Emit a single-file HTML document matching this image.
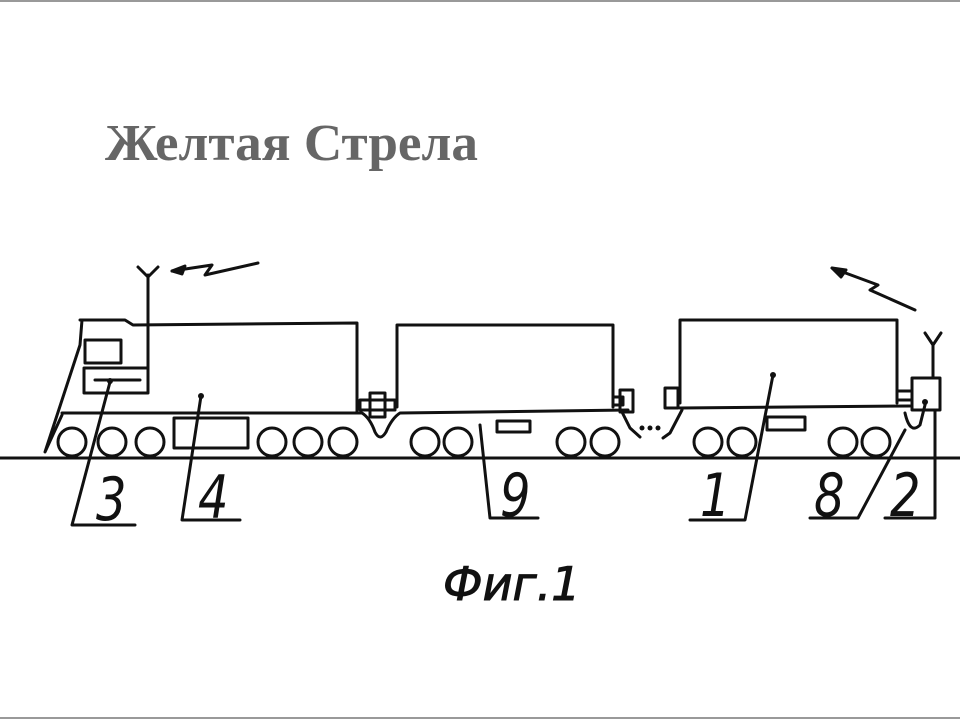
<!DOCTYPE html>
<html><head><meta charset="utf-8"><style>
html,body{margin:0;padding:0;background:#fff}
svg{display:block}
</style></head><body>
<svg width="960" height="720" viewBox="0 0 960 720" xmlns="http://www.w3.org/2000/svg">
<rect x="0" y="0" width="960" height="720" fill="#fff"/>
<line x1="0" y1="1" x2="960" y2="1" stroke="#999" stroke-width="2"/>
<line x1="0" y1="718" x2="960" y2="718" stroke="#999" stroke-width="2"/>
<text x="105" y="160" font-family="Liberation Serif, serif" font-weight="bold" font-size="52" fill="#666" textLength="373" lengthAdjust="spacingAndGlyphs">Желтая Стрела</text>
<g stroke="#111" stroke-width="3" fill="none" stroke-linecap="round" stroke-linejoin="round">
<line x1="0" y1="458" x2="960" y2="458"/>
<path d="M80,320 L125,320 L133,325 L357,323 L357,413"/>
<path d="M82,320 L80,345 L45,452 L62,415"/>
<rect x="85" y="340" width="36" height="23"/>
<rect x="84" y="368" width="64" height="25"/>
<line x1="95" y1="380" x2="140" y2="380"/>
<line x1="148" y1="275" x2="148" y2="368"/>
<path d="M138,267 L148,277 L158,267"/>
<path d="M258,263 L205,275 L212,265 L172,271"/>
<path d="M172,271 L185,266 L182,274 Z" fill="#111"/>
<line x1="62" y1="413" x2="357" y2="413"/>
<rect x="174" y="418" width="74" height="30"/>
<path d="M357,413 L362,413 Q370,418 375,432 Q380,442 386,432 Q392,418 400,413 L628,410"/>
<rect x="360" y="400" width="35" height="10"/>
<rect x="370" y="393" width="15" height="24"/>
<path d="M397,407 L397,325 L613,325 L613,407"/>
<rect x="613" y="397" width="10" height="8"/>
<rect x="620" y="390" width="13" height="22"/>
<path d="M622,412 L630,428 L640,437"/>
<rect x="497" y="421" width="33" height="11"/>
<path d="M680,403 L680,320 L897,320 L897,403"/>
<rect x="665" y="388" width="13" height="20"/>
<path d="M680,408 L910,406"/>
<path d="M682,410 L670,433 L663,438"/>
<rect x="767" y="417" width="38" height="13"/>
<rect x="897" y="391" width="15" height="9"/>
<rect x="912" y="378" width="28" height="32"/>
<line x1="933" y1="345" x2="933" y2="378"/>
<path d="M925,333 L933,345 L941,333"/>
<path d="M905,413 Q910,435 920,425 L925,405"/>
<path d="M915,310 L870,290 L878,285 L832,268"/>
<path d="M832,268 L846,270 L841,277 Z" fill="#111"/>
<path d="M110,382 L72,525 L135,525"/>
<path d="M201,396 L182,520 L240,520"/>
<path d="M480,425 L490,518 L538,518"/>
<path d="M773,375 L745,520 L690,520"/>
<path d="M905,430 L858,518 L810,518"/>
<path d="M935,410 L935,518 L885,518"/>
</g>
<g fill="#111">
<circle cx="110" cy="381" r="3"/><circle cx="201" cy="396" r="3"/><circle cx="773" cy="375" r="3"/><circle cx="925" cy="402" r="3"/>
<circle cx="642" cy="428" r="2.5"/><circle cx="650" cy="428" r="2.5"/><circle cx="658" cy="428" r="2.5"/>
</g>
<g stroke="#111" stroke-width="3" fill="#fff">
<circle cx="72" cy="442" r="14"/><circle cx="112" cy="442" r="14"/><circle cx="150" cy="442" r="14"/>
<circle cx="272" cy="442" r="14"/><circle cx="308" cy="442" r="14"/><circle cx="343" cy="442" r="14"/>
<circle cx="425" cy="442" r="14"/><circle cx="458" cy="442" r="14"/>
<circle cx="571" cy="442" r="14"/><circle cx="605" cy="442" r="14"/>
<circle cx="708" cy="442" r="14"/><circle cx="742" cy="442" r="14"/>
<circle cx="843" cy="442" r="14"/><circle cx="876" cy="442" r="14"/>
</g>
<g font-family="DejaVu Sans, sans-serif" font-style="italic" font-size="60" fill="#111">
<text x="96" y="520" transform="translate(96 0) scale(0.8 1) translate(-96 0)">3</text>
<text x="198" y="518" transform="translate(198 0) scale(0.8 1) translate(-198 0)">4</text>
<text x="500" y="516" transform="translate(500 0) scale(0.8 1) translate(-500 0)">9</text>
<text x="700" y="516" transform="translate(700 0) scale(0.8 1) translate(-700 0)">1</text>
<text x="814" y="516" transform="translate(814 0) scale(0.8 1) translate(-814 0)">8</text>
<text x="890" y="516" transform="translate(890 0) scale(0.8 1) translate(-890 0)">2</text>
</g>
<text x="443" y="600" font-family="DejaVu Sans, sans-serif" font-style="italic" font-size="46" fill="#111" stroke="#111" stroke-width="1">Фиг.1</text>
</svg>
</body></html>
